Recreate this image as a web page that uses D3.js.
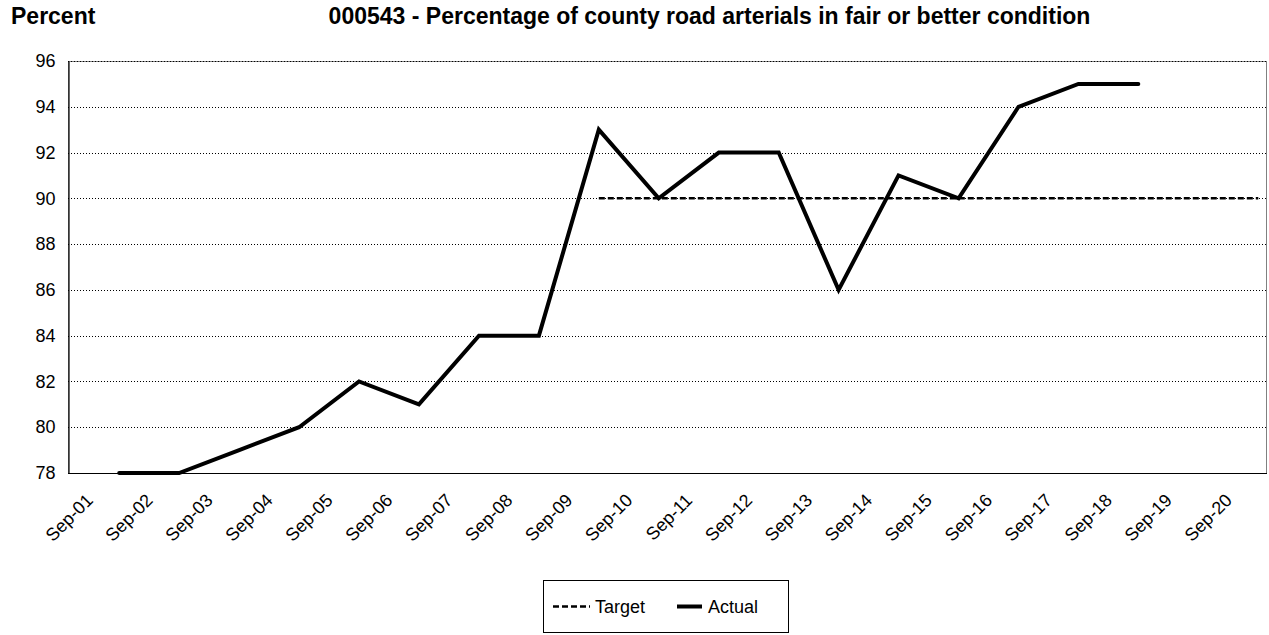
<!DOCTYPE html>
<html>
<head>
<meta charset="utf-8">
<script src="https://cdn.jsdelivr.net/npm/d3@7"></script>
<style>
  html, body { margin: 0; padding: 0; background: #fff; }
  svg { display: block; }
  text { font-family: Arial, "Liberation Sans", sans-serif; fill: #000; }
</style>
</head>
<body>
<svg id="chart" width="1269" height="635"></svg>
<script>
// ---- data ----
const tickLabels = ["Sep-01","Sep-02","Sep-03","Sep-04","Sep-05","Sep-06","Sep-07","Sep-08","Sep-09","Sep-10",
                    "Sep-11","Sep-12","Sep-13","Sep-14","Sep-15","Sep-16","Sep-17","Sep-18","Sep-19","Sep-20"];
const tickYears = [2001,2002,2003,2004,2005,2006,2007,2008,2009,2010,2011,2012,2013,2014,2015,2016,2017,2018,2019,2020];
const actualYears = [2002,2003,2004,2005,2006,2007,2008,2009,2010,2011,2012,2013,2014,2015,2016,2017,2018,2019];
const actualValues = [78,78,79,80,82,81,84,84,93,90,92,92,86,91,90,94,95,95];
const targetYears = [2010,2011,2012,2013,2014,2015,2016,2017,2018,2019,2020,2021];
const targetValues = [90,90,90,90,90,90,90,90,90,90,90,90];
const yTicks = [78,80,82,84,86,88,90,92,94,96];
const seriesNames = ["Target","Actual"];
const titleText = "000543 - Percentage of county road arterials in fair or better condition";
const yAxisTitle = "Percent";

// ---- layout ----
const svg = d3.select("#chart");
const pLeft = 68, pRight = 1267, pTop = 61, pBottom = 473;

const x = d3.scaleTime()
  .domain([new Date(2001, 3, 23), new Date(2021, 3, 23)])
  .range([pLeft, pRight]);
const y = d3.scaleLinear().domain([78, 96]).range([pBottom, pTop]);

const tickDate = yr => new Date(yr, 8, 1);
const pointDate = yr => new Date(yr, 2, 1);

// titles
svg.append("text").attr("x", 11).attr("y", 24)
  .attr("font-size", 23).attr("font-weight", "bold").text(yAxisTitle);
svg.append("text").attr("x", 709.5).attr("y", 24).attr("text-anchor", "middle")
  .attr("font-size", 23).attr("font-weight", "bold").text(titleText);

// plot border (gray)
svg.append("rect").attr("x", pLeft + 0.5).attr("y", pTop + 0.5)
  .attr("width", pRight - pLeft - 1).attr("height", pBottom - pTop)
  .attr("fill", "none").attr("stroke", "#808080").attr("stroke-width", 1);

// gridlines
svg.append("g").selectAll("line").data(yTicks.filter(v => v !== 78)).join("line")
  .attr("x1", pLeft).attr("x2", pRight)
  .attr("y1", d => Math.round(y(d)) + 0.5).attr("y2", d => Math.round(y(d)) + 0.5)
  .attr("stroke", "#000").attr("stroke-width", 1).attr("stroke-dasharray", "1,2");

// y axis
const yAxis = d3.axisLeft(y).tickValues(yTicks).tickSize(0).tickPadding(13).tickFormat(d3.format("d"));
const gy = svg.append("g").attr("transform", `translate(${pLeft + 0.5},0)`).call(yAxis);
gy.select(".domain").attr("stroke", "#000").attr("stroke-width", 1.2);
gy.selectAll("text").attr("font-size", 18).attr("font-family", "Arial, 'Liberation Sans', sans-serif");

// x axis (no ticks, rotated labels)
const gx = svg.append("g");
gx.append("line").attr("x1", pLeft).attr("x2", pRight)
  .attr("y1", pBottom + 0.5).attr("y2", pBottom + 0.5)
  .attr("stroke", "#000").attr("stroke-width", 1.2);
gx.selectAll("text").data(tickYears).join("text")
  .attr("transform", d => `translate(${x(tickDate(d))},497) rotate(-45)`)
  .attr("text-anchor", "end").attr("dy", "0.35em")
  .attr("font-size", 18)
  .text((d, i) => tickLabels[i]);

// lines
const line = d3.line().x(d => x(pointDate(d[0]))).y(d => y(d[1]));

svg.append("path")
  .datum(targetYears.map((yr, i) => [yr, targetValues[i]]))
  .attr("d", line).attr("fill", "none").attr("stroke", "#000")
  .attr("stroke-width", 2.5).attr("stroke-dasharray", "6,3");

svg.append("path")
  .datum(actualYears.map((yr, i) => [yr, actualValues[i]]))
  .attr("d", line).attr("fill", "none").attr("stroke", "#000")
  .attr("stroke-width", 4).attr("stroke-linejoin", "miter").attr("stroke-linecap", "round");

// legend
const lg = svg.append("g");
lg.append("rect").attr("x", 543.5).attr("y", 580.5).attr("width", 245).attr("height", 52)
  .attr("fill", "#fff").attr("stroke", "#000").attr("stroke-width", 1);
const ly = 606.5;
lg.append("line").attr("x1", 553).attr("x2", 590).attr("y1", ly).attr("y2", ly)
  .attr("stroke", "#000").attr("stroke-width", 2.5).attr("stroke-dasharray", "6,3");
lg.append("text").attr("x", 595).attr("y", ly).attr("dy", "0.35em").attr("font-size", 18).text(seriesNames[0]);
lg.append("line").attr("x1", 677).attr("x2", 702).attr("y1", ly).attr("y2", ly)
  .attr("stroke", "#000").attr("stroke-width", 4);
lg.append("text").attr("x", 708).attr("y", ly).attr("dy", "0.35em").attr("font-size", 18).text(seriesNames[1]);
</script>
</body>
</html>
